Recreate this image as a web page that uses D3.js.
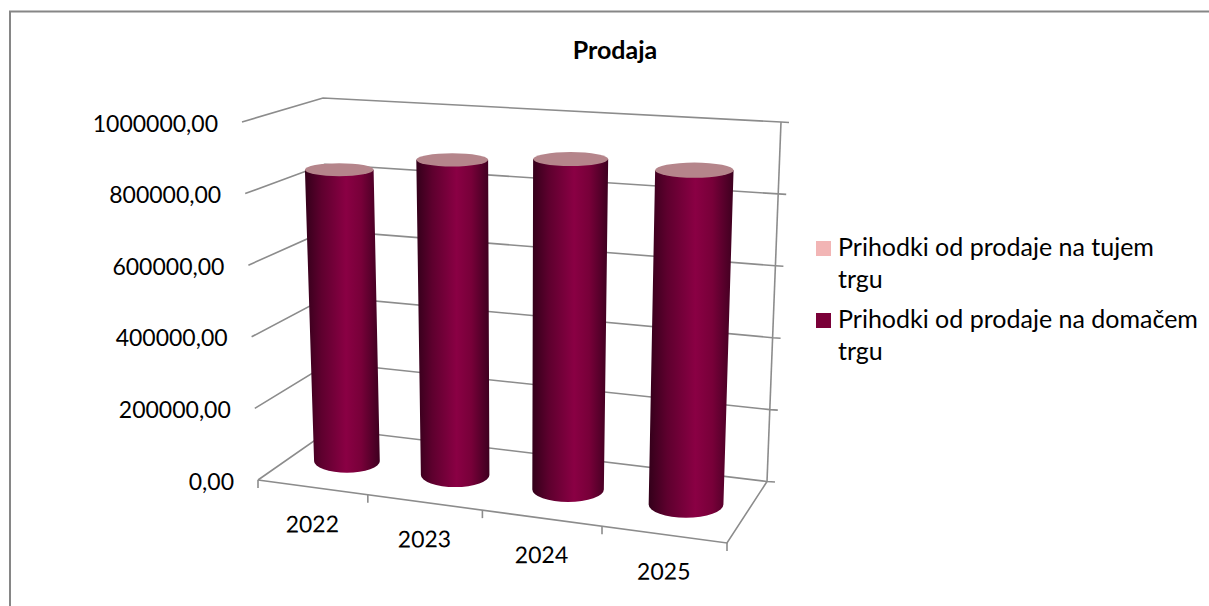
<!DOCTYPE html>
<html lang="en">
<head>
  <meta charset="UTF-8">
  <title>Prodaja</title>
  <script src="https://d3js.org/d3.v7.min.js"></script>
  <style>
    html, body { margin: 0; background: #fff; }
    svg { display: block; }
    text { font-family: Lato, "Open Sans", sans-serif; fill: #000; }
  </style>
</head>
<body>
<script>
  const width = 1209;
  const height = 606;

  const years = ["2022", "2023", "2024", "2025"];
  const foreignSales = [0, 0, 0, 0];
  const domesticSales = [838000, 888000, 912000, 904000];
  const valueTicks = [0, 200000, 400000, 600000, 800000, 1000000];
  const tickLabels = ["0,00", "200000,00", "400000,00", "600000,00", "800000,00", "1000000,00"];
  const seriesNames = ["Prihodki od prodaje na tujem", "Prihodki od prodaje na domačem"];
  const seriesWrap = ["trgu", "trgu"];
  const seriesColors = ["#f2b5b5", "#7a0038"];

  let svg = d3.select("body").append("svg").attr("width", width).attr("height", height);

  // corners of the 3d box as excel drew it, f = front, b = back, l/r, 0 = floor, 1 = top
  const box = {
    fl0: [258, 480], fr0: [727, 543], bl0: [331, 429], br0: [767, 481.5],
    fl1: [242, 122], fr1: [738, 155], bl1: [323, 98], br1: [781, 122]
  };

  let xBand = d3.scaleBand().domain(years).range([0, 1]);
  let yFrac = d3.scaleLinear().domain([0, 1000000]).range([0, 1]);

  // the columns get wider to the right, the front axis ticks are not evenly spaced
  function warp(u) { return u / (u + 1.09 * (1 - u)); }

  function lerp(a, b, t) { return [a[0] + (b[0] - a[0]) * t, a[1] + (b[1] - a[1]) * t]; }

  // u along the years, value up, d = 0 front .. 1 back
  function project(u, value, d) {
    let w = warp(u), v = yFrac(value);
    let floor = lerp(lerp(box.fl0, box.fr0, w), lerp(box.bl0, box.br0, w), d);
    let top = lerp(lerp(box.fl1, box.fr1, w), lerp(box.bl1, box.br1, w), d);
    return lerp(floor, top, v);
  }

  // chart frame, cut off at the right and bottom of the picture
  svg.append("path")
    .attr("d", `M10,${height}V11.5H${width}`)
    .attr("fill", "none").attr("stroke", "#868686").attr("stroke-width", 2);

  let axisLine = d3.line();
  let grid = svg.append("g").attr("fill", "none").attr("stroke", "#8c8c8c").attr("stroke-width", 1.6);

  // walls: side line, back line, short tick past the right corner
  valueTicks.forEach(t => {
    let corner = project(1, t, 1);
    grid.append("path").attr("d", axisLine([
      project(0, t, 0), project(0, t, 1), corner, [corner[0] + 8, corner[1] + 0.5]
    ]));
  });
  // right vertical, floor edges
  grid.append("path").attr("d", axisLine([project(1, 0, 1), project(1, 1000000, 1)]));
  grid.append("path").attr("d", axisLine([project(0, 0, 0), project(1, 0, 0), project(1, 0, 1)]));

  // year ticks on the front edge
  let yearEdges = years.map(y => xBand(y)).concat([1]);
  yearEdges.forEach(u => {
    let p = project(u, 0, 0);
    grid.append("path").attr("d", axisLine([p, [p[0], p[1] + 8]]));
  });

  // gradient across the round side of the column
  let grad = svg.append("defs").append("linearGradient").attr("id", "side");
  [[0, "#33001a"], [0.22, "#5e002e"], [0.55, "#8a0044"], [0.75, "#780039"], [1, "#3d001f"]].forEach(s => {
    grad.append("stop").attr("offset", s[0]).attr("stop-color", s[1]);
  });

  let stack = d3.stack().keys(["domestic", "foreign"]);
  let stacked = stack(years.map((y, i) => ({ year: y, domestic: domesticSales[i], foreign: foreignSales[i] })));

  const barFrac = 0.31;  // half width of column inside its band
  const depthFrac = 0.22;

  function ellipseAt(y, value) {
    let u = xBand(y) + xBand.bandwidth() / 2;
    let c = project(u, value, 0.5);
    let l = project(u - barFrac * xBand.bandwidth(), value, 0.5);
    let r = project(u + barFrac * xBand.bandwidth(), value, 0.5);
    let f = project(u, value, 0), b = project(u, value, 1);
    return { cx: c[0], cy: c[1], rx: (r[0] - l[0]) / 2, ry: Math.abs(f[1] - b[1]) * depthFrac };
  }

  let bars = svg.append("g").selectAll("g").data(years).join("g");

  bars.append("path")
    .attr("fill", "url(#side)")
    .attr("d", (y, i) => {
      let bot = ellipseAt(y, stacked[0][i][0]);
      let top = ellipseAt(y, stacked[1][i][1]);
      return `M${top.cx - top.rx},${top.cy}L${bot.cx - bot.rx},${bot.cy}` +
        `A${bot.rx},${bot.ry} 0 0 0 ${bot.cx + bot.rx},${bot.cy}` +
        `L${top.cx + top.rx},${top.cy}Z`;
    });

  bars.append("ellipse")
    .datum((y, i) => ellipseAt(y, stacked[1][i][1]))
    .attr("cx", d => d.cx).attr("cy", d => d.cy)
    .attr("rx", d => d.rx).attr("ry", d => d.ry)
    .attr("fill", "#b5858b");

  // title
  svg.append("text").attr("x", 615).attr("y", 59)
    .attr("text-anchor", "middle").attr("font-size", 25).attr("font-weight", 700)
    .text("Prodaja");

  // value labels
  svg.append("g").selectAll("text").data(valueTicks).join("text")
    .attr("x", t => project(0, t, 0)[0] - 24)
    .attr("y", t => project(0, t, 0)[1] + 9.5)
    .attr("text-anchor", "end").attr("font-size", 23)
    .text((t, i) => tickLabels[i]);

  // year labels
  svg.append("g").selectAll("text").data(years).join("text")
    .attr("text-anchor", "middle").attr("font-size", 23)
    .attr("transform", y => {
      let p = project(xBand(y) + xBand.bandwidth() / 2, 0, 0);
      return `translate(${p[0]},${p[1] + 45}) rotate(-0.5)`;
    })
    .text(y => y);

  // legend
  let legend = svg.append("g").selectAll("g").data(seriesNames).join("g")
    .attr("transform", (d, i) => `translate(816,${241 + i * 72})`);
  legend.append("rect").attr("width", 15).attr("height", 15).attr("fill", (d, i) => seriesColors[i]);
  legend.append("text").attr("x", 22).attr("y", 15).attr("font-size", 25).text(d => d);
  legend.append("text").attr("x", 22).attr("y", 47).attr("font-size", 25).text((d, i) => seriesWrap[i]);
</script>
</body>
</html>
